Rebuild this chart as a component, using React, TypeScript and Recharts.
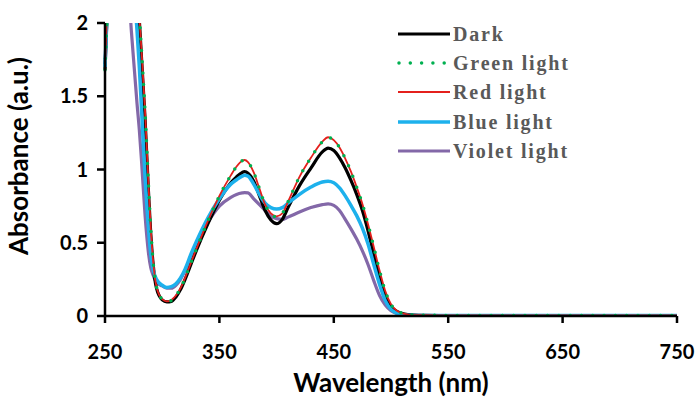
import React from 'react';
import { LineChart, Line, XAxis, YAxis, Legend } from 'recharts';

const wavelengths = [250, 252, 255, 260, 265, 270, 273, 276, 278, 280, 282, 285, 288, 290, 292, 295, 300, 304, 308, 312, 316, 320, 325, 330, 340, 350, 360, 365, 370, 372, 375, 380, 385, 390, 395, 400, 405, 410, 420, 430, 440, 445, 450, 455, 460, 465, 470, 475, 480, 485, 490, 495, 500, 505, 510, 515, 520, 530, 550, 600, 650, 700, 750];

const dark = [1.68, 2.1, 2.5, 2.7, 2.7, 2.7, 2.65, 2.5, 2.25, 2.02, 1.75, 1.35, 0.85, 0.56, 0.36, 0.19, 0.11, 0.096, 0.1, 0.13, 0.18, 0.25, 0.35, 0.45, 0.63, 0.79, 0.91, 0.95, 0.98, 0.985, 0.975, 0.92, 0.82, 0.72, 0.655, 0.63, 0.66, 0.74, 0.89, 1.01, 1.12, 1.146, 1.13, 1.08, 1.01, 0.925, 0.83, 0.72, 0.58, 0.42, 0.27, 0.14, 0.065, 0.032, 0.016, 0.009, 0.006, 0.004, 0.003, 0.003, 0.003, 0.003, 0.003];
const green = [1.68, 2.1, 2.5, 2.7, 2.7, 2.7, 2.66, 2.52, 2.28, 2.05, 1.8, 1.4, 0.9, 0.6, 0.38, 0.2, 0.115, 0.1, 0.105, 0.14, 0.19, 0.26, 0.36, 0.46, 0.65, 0.82, 0.96, 1.02, 1.06, 1.065, 1.05, 0.98, 0.87, 0.76, 0.7, 0.675, 0.7, 0.78, 0.95, 1.08, 1.19, 1.22, 1.2, 1.15, 1.075, 0.985, 0.88, 0.765, 0.625, 0.47, 0.31, 0.17, 0.08, 0.037, 0.018, 0.01, 0.006, 0.005, 0.004, 0.004, 0.004, 0.004, 0.004];
const red = [1.68, 2.1, 2.5, 2.7, 2.7, 2.7, 2.66, 2.52, 2.28, 2.05, 1.8, 1.4, 0.9, 0.6, 0.38, 0.2, 0.115, 0.1, 0.11, 0.14, 0.19, 0.26, 0.36, 0.46, 0.65, 0.82, 0.96, 1.02, 1.06, 1.065, 1.05, 0.98, 0.87, 0.76, 0.7, 0.68, 0.7, 0.78, 0.95, 1.08, 1.19, 1.22, 1.2, 1.15, 1.075, 0.985, 0.88, 0.765, 0.625, 0.47, 0.31, 0.17, 0.08, 0.037, 0.018, 0.01, 0.006, 0.005, 0.004, 0.004, 0.004, 0.004, 0.004];
const blue = [1.7, 2.1, 2.5, 2.6, 2.55, 2.4, 2.3, 2.15, 1.95, 1.7, 1.4, 0.95, 0.6, 0.42, 0.32, 0.25, 0.21, 0.195, 0.2, 0.22, 0.26, 0.32, 0.42, 0.51, 0.67, 0.8, 0.9, 0.93, 0.955, 0.96, 0.955, 0.9, 0.83, 0.77, 0.74, 0.73, 0.74, 0.77, 0.83, 0.88, 0.915, 0.92, 0.91, 0.875, 0.82, 0.755, 0.685, 0.6, 0.49, 0.35, 0.215, 0.105, 0.045, 0.02, 0.009, 0.005, 0.004, 0.003, 0.003, 0.003, 0.003, 0.003, 0.003];
const violet = [1.72, 2.1, 2.5, 2.55, 2.45, 2.3, 1.95, 1.65, 1.45, 1.27, 1.05, 0.69, 0.43, 0.33, 0.28, 0.23, 0.205, 0.19, 0.19, 0.21, 0.25, 0.31, 0.4, 0.49, 0.64, 0.75, 0.81, 0.83, 0.84, 0.842, 0.84, 0.8, 0.76, 0.72, 0.68, 0.665, 0.66, 0.675, 0.71, 0.74, 0.76, 0.765, 0.755, 0.72, 0.66, 0.595, 0.525, 0.445, 0.35, 0.24, 0.14, 0.075, 0.036, 0.017, 0.008, 0.005, 0.004, 0.003, 0.003, 0.003, 0.003, 0.003, 0.003];

const xTicks = [250, 350, 450, 550, 650, 750];
const yTicks = [0, 0.5, 1, 1.5, 2];

const seriesNames = ['Dark', 'Green light', 'Red light', 'Blue light', 'Violet light'];
const seriesKeys = ['dark', 'green', 'red', 'blue', 'violet'];

const data = wavelengths.map((w, i) => ({
  wl: w,
  dark: dark[i],
  green: green[i],
  red: red[i],
  blue: blue[i],
  violet: violet[i],
}));

const styles: Record<string, { color: string; width: number; dash?: string }> = {
  dark: { color: '#000000', width: 3.2 },
  green: { color: '#00B050', width: 3.5, dash: '0 11.3' },
  red: { color: '#E4201C', width: 1.8 },
  blue: { color: '#1DB1EC', width: 3.5 },
  violet: { color: '#8368A8', width: 3.2 },
};

const drawOrder = ['violet', 'dark', 'blue', 'red', 'green'];

const tickFont = { fontFamily: 'Lato', fontWeight: 700, fontSize: 20, fill: '#000' };

const LegendContent = () => (
  <div style={{ fontFamily: '"Liberation Serif", serif', fontWeight: 700, fontSize: 20, color: '#595959', letterSpacing: 1.8 }}>
    {seriesKeys.map((k, i) => {
      const s = styles[k];
      return (
        <div key={k} style={{ display: 'flex', alignItems: 'center', height: 29.2 }}>
          <svg width={56} height={10} style={{ display: 'block' }}>
            <line
              x1={s.dash ? 2 : 1}
              x2={53}
              y1={5}
              y2={5}
              stroke={s.color}
              strokeWidth={s.dash ? 3.5 : s.width}
              strokeDasharray={s.dash}
              strokeLinecap={s.dash ? 'round' : 'butt'}
            />
          </svg>
          <span style={{ whiteSpace: 'nowrap', lineHeight: '20px' }}>{seriesNames[i]}</span>
        </div>
      );
    })}
  </div>
);

export default function App() {
  return (
    <div style={{ position: 'absolute', left: 0, top: 0, width: 700, height: 412, background: '#fff' }}>
      <LineChart width={700} height={412} data={data} margin={{ top: 23, right: 23, bottom: 0, left: 0 }}>
        <XAxis
          dataKey="wl"
          type="number"
          domain={[250, 750]}
          ticks={xTicks}
          height={96}
          tick={tickFont}
          tickSize={7}
          tickMargin={22}
          axisLine={{ stroke: '#000', strokeWidth: 2.5 }}
          tickLine={{ stroke: '#000', strokeWidth: 2.5 }}
          interval={0}
          label={{
            content: (props: any) => {
              const vb = props.viewBox;
              return (
                <text x={vb.x + vb.width / 2} y={392} textAnchor="middle" fontFamily="Lato" fontWeight={700} fontSize={26} fill="#000">
                  Wavelength (nm)
                </text>
              );
            },
          }}
        />
        <YAxis
          type="number"
          domain={[0, 2]}
          ticks={yTicks}
          allowDataOverflow
          width={105}
          tick={tickFont}
          tickSize={8}
          tickMargin={9}
          axisLine={{ stroke: '#000', strokeWidth: 2.5 }}
          tickLine={{ stroke: '#000', strokeWidth: 2.5 }}
          interval={0}
          label={{
            content: () => (
              <text
                x={18}
                y={156}
                transform="rotate(-90 18 156)"
                textAnchor="middle"
                dominantBaseline="central"
                fontFamily="Lato"
                fontWeight={700}
                fontSize={26}
                fill="#000"
              >
                Absorbance (a.u.)
              </text>
            ),
          }}
        />
        <Legend
          verticalAlign="middle"
          align="center"
          layout="vertical"
          content={LegendContent}
          wrapperStyle={{ left: 397, top: 19.4, width: 280, right: 'auto', bottom: 'auto' }}
        />
        {drawOrder.map((k) => (
          <Line
            key={k}
            dataKey={k}
            name={seriesNames[seriesKeys.indexOf(k)]}
            type="monotone"
            stroke={styles[k].color}
            strokeWidth={styles[k].width}
            strokeDasharray={styles[k].dash}
            strokeLinecap={styles[k].dash ? 'round' : 'butt'}
            dot={false}
            activeDot={false}
            isAnimationActive={false}
          />
        ))}
      </LineChart>
    </div>
  );
}
